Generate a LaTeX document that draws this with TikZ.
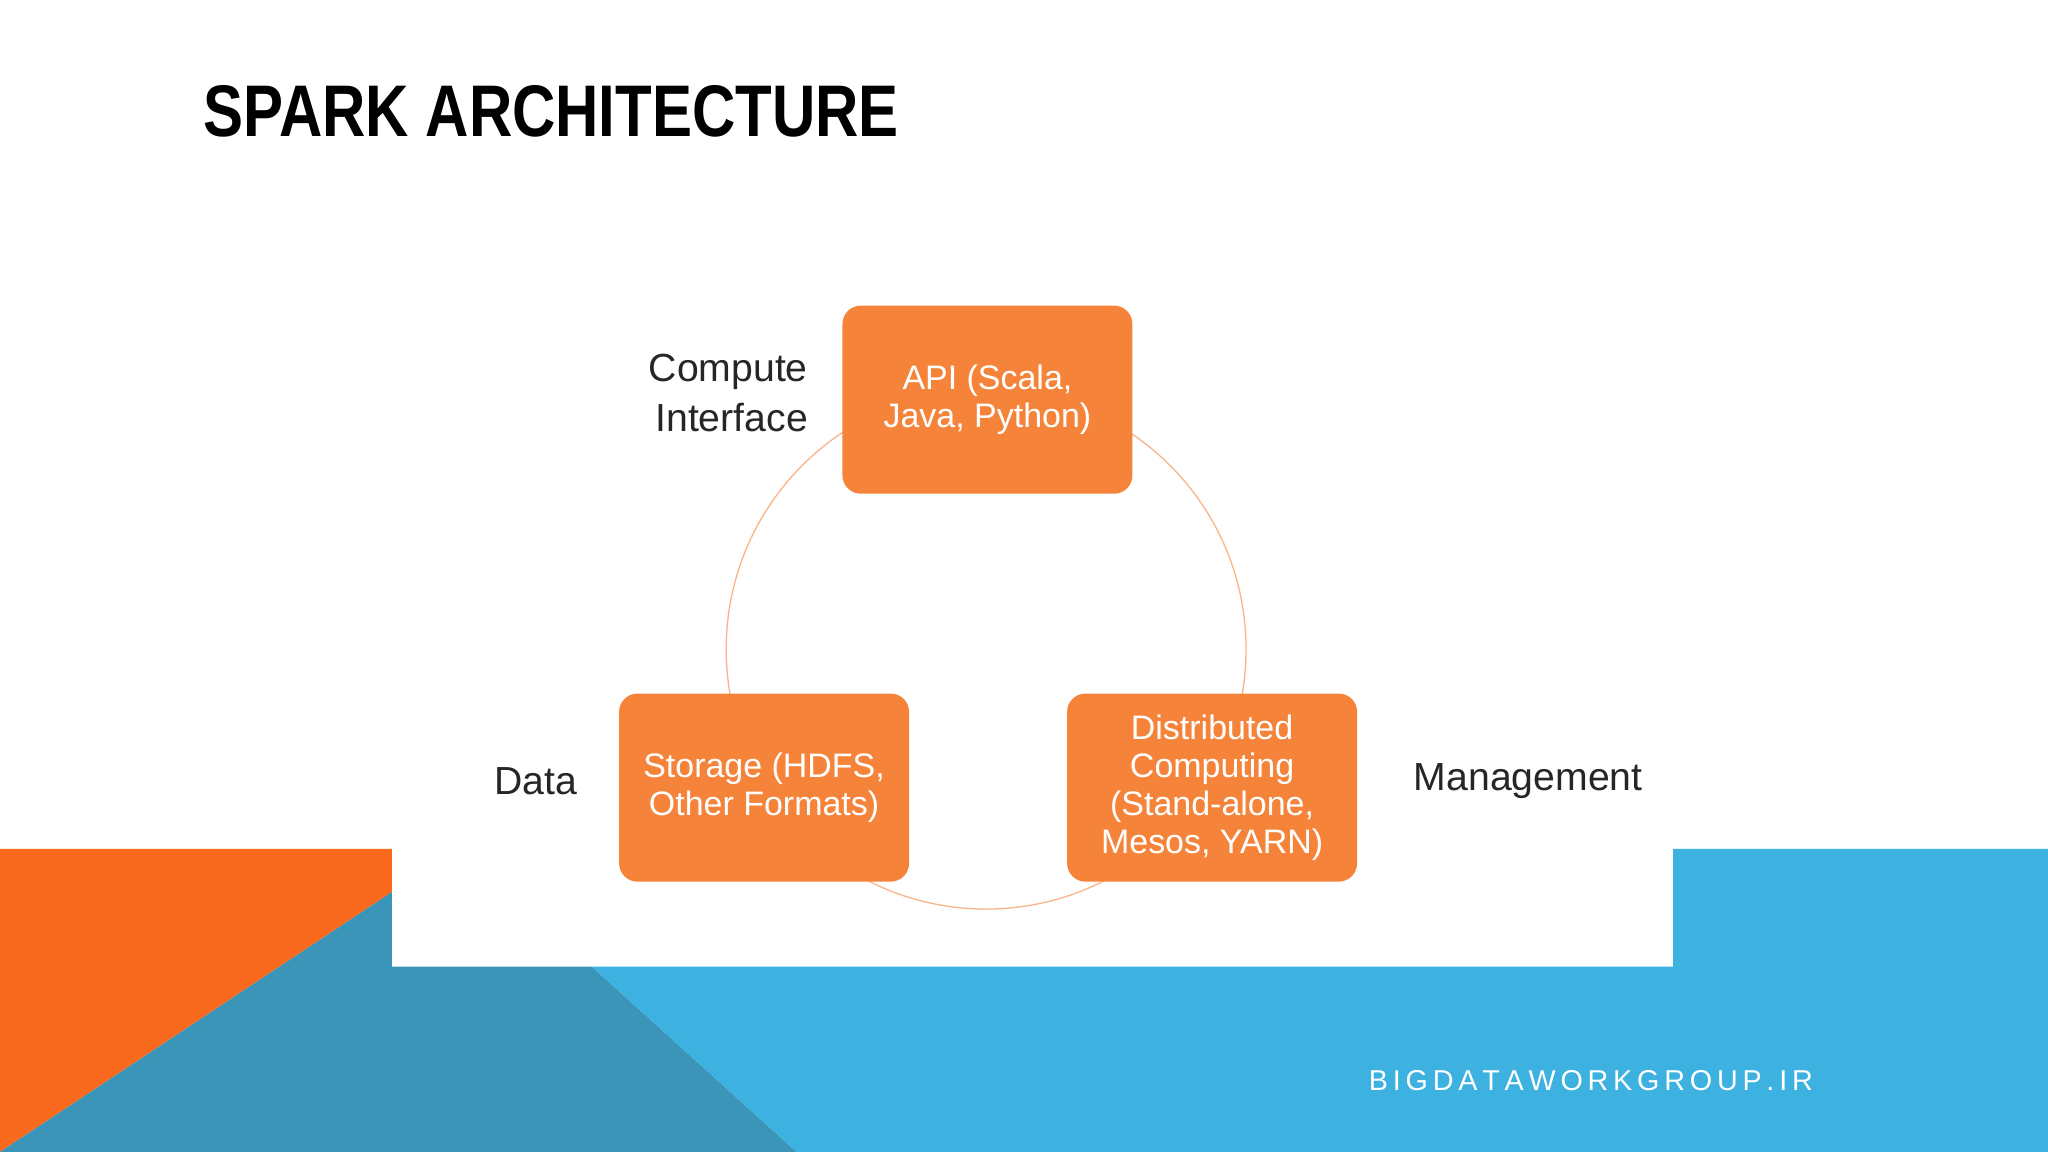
\documentclass[tikz,border=0pt]{standalone}
\usepackage{fontspec}
\setmainfont{Liberation Sans}
\begin{document}
\begin{tikzpicture}[x=1pt,y=-1pt,
 box/.style={draw=none,fill=boxor,rounded corners=14pt,minimum width=222pt,minimum height=144pt,text=white,align=center,font=\fontsize{26}{29}\selectfont},
 lab/.style={font=\fontsize{30}{38}\selectfont,text=black!85}]
\definecolor{boxor}{HTML}{F5843A}
\definecolor{orng}{HTML}{F96A1E}
\definecolor{lblue}{HTML}{3DB1E0}
\definecolor{dblue}{HTML}{3A95B8}
\useasboundingbox (0,0) rectangle (1568,882);
\fill[white] (0,0) rectangle (1568,882);
\fill[orng] (0,650) -- (300,650) -- (300,683) -- (0,882) -- cycle;
\fill[dblue] (0,882) -- (300,683) -- (300,740) -- (453,740) -- (610,882) -- cycle;
\fill[lblue] (1281,650) -- (1568,650) -- (1568,882) -- (610,882) -- (453,740) -- (1281,740) -- cycle;
\node[anchor=west,font=\fontsize{56}{56}\selectfont\bfseries,xscale=0.82] (title) at (153,85) {SPARK ARCHITECTURE};
\draw[boxor!60,line width=1pt] (755,497) circle (199);
\node[box] (api) at (756,306) {API (Scala,\\Java, Python)};
\node[box] (sto) at (585,603) {Storage (HDFS,\\Other Formats)};
\node[box] (dist) at (928,603) {Distributed\\Computing\\(Stand-alone,\\Mesos, YARN)};
\node[lab,anchor=east,align=right] (ci) at (622,301) {Compute\\Interface};
\node[lab] (data) at (410,598) {Data};
\node[lab] (mgmt) at (1170,598) {Management};
\node[text=white,font=\fontsize{22}{22}\selectfont] (web) at (1218,827) {B\,I\,G\,D\,A\,T\,A\,W\,O\,R\,K\,G\,R\,O\,U\,P\,.\,I\,R};
\end{tikzpicture}
\end{document}
